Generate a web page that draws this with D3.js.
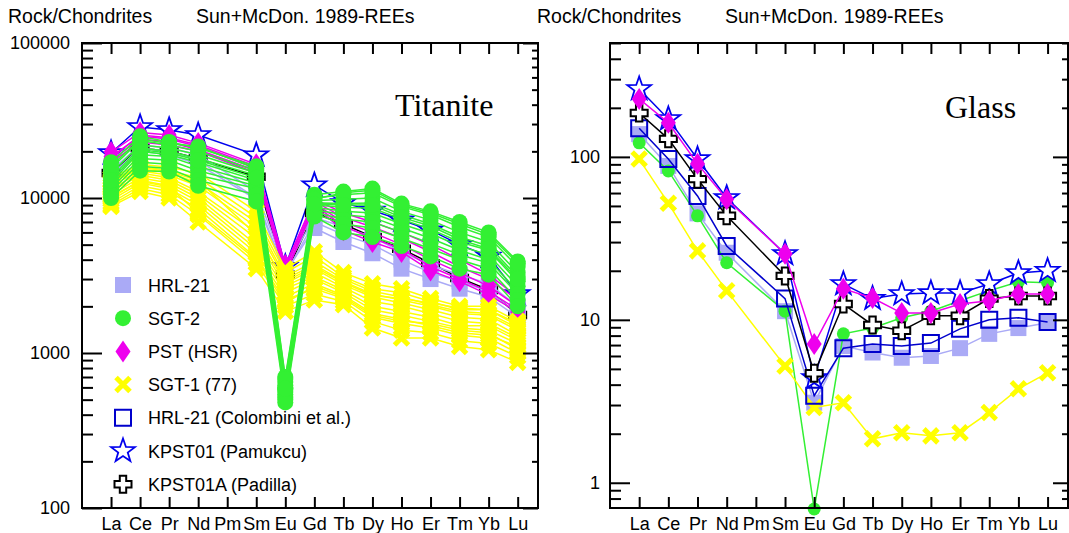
<!DOCTYPE html>
<html>
<head>
<meta charset="utf-8">
<script src="https://cdn.jsdelivr.net/npm/d3@7"></script>
<style>
body { margin: 0; background: #fff; }
</style>
</head>
<body>
<script>
// Elementos (Pm sin dato)
const elementos = ["La","Ce","Pr","Nd","Pm","Sm","Eu","Gd","Tb","Dy","Ho","Er","Tm","Yb","Lu"];

// Titanita: La Ce Pr Nd Pm Sm Eu Gd Tb Dy Ho Er Tm Yb Lu
const titHRL21 = [
  [14000,21000,20000,17500,null,10000,3300,6400,5200,4400,3500,3000,2600,2300,1700],
  [13000,20000,19000,16500,null,9800,3200,7000,5800,5000,4000,3300,2900,2500,1800],
  [15000,22000,21000,19000,null,11000,3500,7500,6500,5600,4500,3700,3200,2800,2000]
];
const titSGT2 = [
  [17000,25000,23000,21000,null,16000,700,10500,11000,11500,9200,8200,7000,6000,3900],
  [15500,23500,22000,20000,null,15000,650,10000,10500,10800,8800,7800,6500,5600,3600],
  [14500,22000,21000,19000,null,14500,620,9600,9800,10000,8200,7200,6000,5200,3300],
  [13500,21000,20000,18000,null,14000,600,9300,9200,9300,7800,6800,5600,4900,3100],
  [12500,20000,19000,17000,null,13000,580,9000,8700,8600,7300,6300,5200,4600,2900],
  [12000,19000,18500,16000,null,12500,560,8700,8200,8000,6800,5900,4900,4300,2700],
  [11500,18000,17500,15000,null,12000,540,8400,7800,7500,6400,5500,4600,4000,2500],
  [11000,17000,16500,14000,null,11500,520,8100,7300,7000,6000,5100,4300,3800,2400],
  [10500,16000,15500,13000,null,10500,500,7900,6800,6400,5500,4700,4000,3500,2200],
  [10000,15000,14800,12000,null,9500,480,7600,6000,5600,4900,4200,3500,3200,2000],
  [16000,24000,22500,21500,null,15500,680,9800,10800,11200,9000,8000,6800,5800,3800],
  [13000,20500,19500,17500,null,13500,590,9100,9000,9000,7500,6600,5400,4700,3000]
];
const titPST = [
  [19800,26500,25500,22600,null,16500,3700,9500,7500,6500,5500,4500,3600,3000,2200],
  [18500,25000,24000,21500,null,15500,3500,9200,7000,6000,5000,4000,3300,2700,2000],
  [17500,24000,23000,20500,null,15000,3300,9000,6600,5500,4700,3600,3000,2500,1900],
  [17000,23000,22000,20000,null,14500,3200,8800,6200,5200,4490,3400,2900,2370,1840],
  [18000,25500,24500,22000,null,16000,3600,9800,8000,7000,6000,5000,4000,3200,2300]
];
const titSGT1 = [
  [13500,16500,15800,14500,null,8200,3500,4500,3300,2800,2600,2250,2000,2000,1600],
  [13000,16000,15000,13500,null,7500,3300,4200,3100,2600,2450,2150,1900,1900,1500],
  [12500,15500,14500,12500,null,7000,3100,3900,3000,2500,2300,2050,1850,1800,1450],
  [12000,15000,14000,12000,null,6500,3000,3700,2900,2400,2200,2000,1800,1750,1400],
  [11500,14500,13500,11000,null,6000,2800,3500,2750,2300,2100,1900,1700,1650,1300],
  [11000,14000,13000,10500,null,5500,2700,3300,2650,2150,2000,1800,1600,1550,1250],
  [10500,13500,12500,10000,null,5000,2600,3100,2550,2000,1850,1700,1500,1500,1200],
  [10000,13000,12000,9500,null,4700,2450,3000,2450,1900,1750,1600,1450,1400,1150],
  [9700,12500,11500,9000,null,4400,2300,2800,2350,1800,1650,1500,1350,1300,1100],
  [9300,12000,11000,8500,null,4100,2200,2600,2250,1700,1550,1450,1300,1250,1000],
  [9000,11500,10500,7800,null,3800,2000,2400,2150,1600,1400,1350,1200,1150,950],
  [8800,11000,10000,7000,null,3500,1850,2200,2050,1450,1250,1250,1100,1050,870],
  [12800,15800,14800,13000,null,5800,2900,3600,2850,2350,2250,2100,1950,1900,1550],
  [10200,12800,11800,8000,null,4000,2100,2700,2300,1750,1600,1550,1400,1350,1050]
];
const titKPST01 = [19500,28700,27500,25500,null,18900,3600,12100,9300,8300,7200,6200,5000,4200,2400];
const titKPST01A = [14500,21000,20000,18000,null,13700,3200,8000,6800,5600,4700,3800,3050,2550,1760];

// Vidrio
const glsHRL21 = [138,88,45,25.8,null,11.3,3.1,6.9,6.3,5.85,6.0,6.7,8.2,8.9,9.6];
const glsSGT2 = [122,82,43.5,22.4,null,11.3,0.69,8.2,8.9,10.3,11.3,13.1,15.1,17.1,16.9];
const glsSGT1 = [97,52,26.5,15.1,null,5.2,2.9,3.1,1.86,2.03,1.94,2.03,2.7,3.77,4.73];
const glsHRL21Col = [150,97,57.6,28.4,null,13.5,3.42,6.7,7.1,6.9,7.2,8.8,10.0,10.3,9.7];
const glsKPST01 = [261,171,97,56,null,25.4,4.4,16.6,13.5,14.4,14.6,14.6,16.6,19.4,20];
const glsKPST01A = [186,129,73,43.5,null,18.6,4.7,12.5,9.3,8.57,10.6,10.6,13.5,14.0,14.0];
const glsPST = [227,162,90.6,55,null,25.4,7.1,15.5,13.6,11.0,11.0,12.5,13.1,14.4,14.4];

const leyenda = ["HRL-21","SGT-2","PST (HSR)","SGT-1 (77)","HRL-21 (Colombini et al.)","KPST01 (Pamukcu)","KPST01A (Padilla)"];

const sans = "'Liberation Sans', Arial, sans-serif";
const serif = "'Liberation Serif', 'Times New Roman', serif";

// Formas de los símbolos
function pathCuadro(s) { const h = s / 2; return `M${-h},${-h}H${h}V${h}H${-h}Z`; }
function pathRombo(w, h) { return `M0,${-h/2}L${w/2},0L0,${h/2}L${-w/2},0Z`; }
function pathEstrella(ro, ri) {
  let p = "";
  for (let k = 0; k < 10; k++) {
    const r = k % 2 ? ri : ro, a = -Math.PI / 2 + k * Math.PI / 5;
    p += (k ? "L" : "M") + (r * Math.cos(a)).toFixed(2) + "," + (r * Math.sin(a)).toFixed(2);
  }
  return p + "Z";
}
function pathCruz(r, a) {
  return `M${-a},${-r}H${a}V${-a}H${r}V${a}H${a}V${r}H${-a}V${a}H${-r}V${-a}H${-a}Z`;
}
function pathEquis(r) { return `M${-r},${-r}L${r},${r}M${-r},${r}L${r},${-r}`; }

// Estilos por serie
const estilos = {
  hrl:   { linea: "#aaaaf6", d: pathCuadro(16), fill: "#aaaaf6", stroke: "none", sw: 0 },
  sgt2:  { linea: "#33f033", d: null, r: 8, fill: "#33f033", stroke: "none", sw: 0 },
  pst:   { linea: "#ee00ee", d: pathRombo(15, 22), fill: "#ee00ee", stroke: "none", sw: 0 },
  sgt1:  { linea: "#ffff00", d: pathEquis(7), fill: "none", stroke: "#ffff00", sw: 5 },
  col:   { linea: "#0000cc", d: pathCuadro(16), fill: "none", stroke: "#0000cc", sw: 2 },
  kp01:  { linea: "#0000ee", d: pathEstrella(12.5, 5), fill: "#fff", stroke: "#0000ee", sw: 1.8 },
  kp01a: { linea: "#000", d: pathCruz(8.5, 3.2), fill: "#fff", stroke: "#000", sw: 2 }
};

const svg = d3.select("body").append("svg")
  .attr("width", 1069).attr("height", 533);

function puntos(serie) {
  return serie.map((v, i) => ({ i: i + 1, v: v })).filter(p => p.v != null);
}

function dibujaSimbolo(g, cx, cy, st, rCirc) {
  if (st.d == null) {
    g.append("circle").attr("cx", cx).attr("cy", cy).attr("r", rCirc || st.r).attr("fill", st.fill);
  } else {
    g.append("path").attr("d", st.d)
      .attr("transform", "translate(" + cx + "," + cy + ")")
      .attr("fill", st.fill).attr("stroke", st.stroke).attr("stroke-width", st.sw);
  }
}

function dibujaPanel(p) {
  const x = d3.scaleLinear().domain([0, 15.7]).range([p.x0, p.x1]);
  const y = d3.scaleLog().domain(p.dominio).range([p.y1, p.y0]);
  const g = svg.append("g");

  // Encabezados
  g.append("text").attr("x", p.tx).attr("y", 23).style("font-family", sans).style("font-size", "19.5px").text("Rock/Chondrites");
  g.append("text").attr("x", p.tx + 188).attr("y", 23).style("font-family", sans).style("font-size", "19.5px").text("Sun+McDon. 1989-REEs");

  const datos = g.append("g");
  p.series.forEach(s => {
    const lista = Array.isArray(s.datos[0]) ? s.datos : [s.datos];
    lista.forEach(serie => {
      const linea = d3.line().x(q => x(q.i)).y(q => y(q.v));
      datos.append("path").datum(puntos(serie))
        .attr("d", linea).attr("fill", "none")
        .attr("stroke", estilos[s.est].linea).attr("stroke-width", 1.5);
    });
    lista.forEach(serie => {
      puntos(serie).forEach(q => dibujaSimbolo(datos, x(q.i), y(q.v), estilos[s.est], s.r));
    });
  });

  const estiloEje = ax => {
    ax.select(".domain").remove();
    ax.selectAll("line").attr("stroke", "#000").attr("stroke-width", 2);
    ax.selectAll("text").attr("fill", "#000").style("font-family", sans).style("font-size", "18px");
  };

  // Ejes y
  g.append("g").attr("transform", "translate(" + p.x0 + ",0)")
    .call(d3.axisLeft(y).tickValues(p.mayores).tickSize(-20).tickPadding(p.pad).tickFormat(d3.format("~g")))
    .call(estiloEje);
  g.append("g").attr("transform", "translate(" + p.x0 + ",0)")
    .call(d3.axisLeft(y).tickValues(p.menores).tickSize(-11).tickFormat(""))
    .call(estiloEje);
  g.append("g").attr("transform", "translate(" + p.x1 + ",0)")
    .call(d3.axisRight(y).tickValues(p.mayores).tickSize(-15).tickFormat(""))
    .call(estiloEje);
  g.append("g").attr("transform", "translate(" + p.x1 + ",0)")
    .call(d3.axisRight(y).tickValues(p.menores).tickSize(-6).tickFormat(""))
    .call(estiloEje);

  // Ejes x
  const idx = d3.range(1, 16);
  g.append("g").attr("transform", "translate(0," + p.y1 + ")")
    .call(d3.axisBottom(x).tickValues(idx).tickSize(-11).tickPadding(9).tickFormat(i => elementos[i - 1]))
    .call(estiloEje);
  g.append("g").attr("transform", "translate(0," + p.y0 + ")")
    .call(d3.axisTop(x).tickValues(idx).tickSize(-11).tickFormat(""))
    .call(estiloEje);

  // Marco
  g.append("rect").attr("x", p.x0).attr("y", p.y0)
    .attr("width", p.x1 - p.x0).attr("height", p.y1 - p.y0)
    .attr("fill", "none").attr("stroke", "#000").attr("stroke-width", 2);

  g.append("text").attr("x", p.rx).attr("y", p.ry)
    .style("font-family", serif).style("font-size", "32px").text(p.rotulo);
  return g;
}

function menoresLog(desde, hasta) {
  const m = [];
  for (let d = desde; d < hasta; d *= 10) for (let k = 2; k <= 9; k++) m.push(d * k);
  return m;
}

dibujaPanel({
  x0: 82, x1: 538, y0: 43, y1: 508, tx: 8, pad: 12,
  dominio: [100, 100000], mayores: [100, 1000, 10000, 100000], menores: menoresLog(100, 100000),
  rotulo: "Titanite", rx: 395, ry: 116,
  series: [
    { datos: titKPST01, est: "kp01" },
    { datos: titKPST01A, est: "kp01a" },
    { datos: titHRL21, est: "hrl" },
    { datos: titPST, est: "pst" },
    { datos: titSGT1, est: "sgt1" },
    { datos: titSGT2, est: "sgt2", r: 8 }
  ]
});

dibujaPanel({
  x0: 610, x1: 1068, y0: 43, y1: 508, tx: 537, pad: 10,
  dominio: [0.7, 500], mayores: [1, 10, 100],
  menores: [0.8, 0.9].concat(menoresLog(1, 100), [200, 300, 400, 500]),
  rotulo: "Glass", rx: 945, ry: 118,
  series: [
    { datos: glsHRL21, est: "hrl" },
    { datos: glsSGT2, est: "sgt2", r: 6.5 },
    { datos: glsSGT1, est: "sgt1" },
    { datos: glsHRL21Col, est: "col" },
    { datos: glsKPST01, est: "kp01" },
    { datos: glsKPST01A, est: "kp01a" },
    { datos: glsPST, est: "pst" }
  ]
});

// Leyenda del panel de titanita
const claves = ["hrl", "sgt2", "pst", "sgt1", "col", "kp01", "kp01a"];
const ley = svg.append("g");
leyenda.forEach((t, k) => {
  const yy = 285 + k * 33.2;
  dibujaSimbolo(ley, 123, yy, estilos[claves[k]], 8);
  ley.append("text").attr("x", 148).attr("y", yy + 6.5)
    .style("font-family", sans).style("font-size", "18px").text(t);
});
</script>
</body>
</html>
